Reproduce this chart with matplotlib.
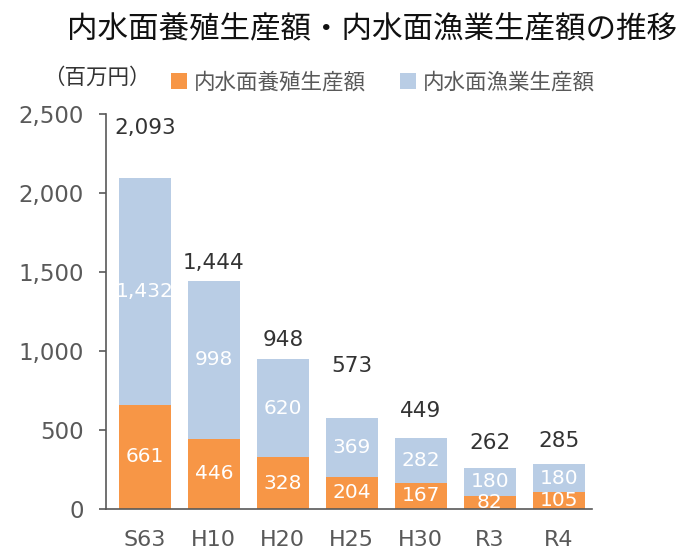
import matplotlib.pyplot as plt

plt.rcParams['font.family'] = ['DejaVu Sans', 'Noto Sans CJK JP']

years = ['S63', 'H10', 'H20', 'H25', 'H30', 'R3', 'R4']
aquaculture = [661, 446, 328, 204, 167, 82, 105]   # 内水面養殖生産額
fishery = [1432, 998, 620, 369, 282, 180, 180]     # 内水面漁業生産額
totals = [a + f for a, f in zip(aquaculture, fishery)]
total_label_y = [2412, 1559, 1067, 903, 619, 417, 429]  # where the total labels sit

orange = '#F79646'
blue = '#B9CDE5'
grey = '#595959'

fig = plt.figure(figsize=(6.78, 5.49), dpi=100)
ax = fig.add_axes([0.156, 0.073, 0.717, 0.719])

x = range(len(years))
ax.bar(x, aquaculture, width=0.76, color=orange, label='内水面養殖生産額')
ax.bar(x, fishery, width=0.76, bottom=aquaculture, color=blue, label='内水面漁業生産額')

# values inside the segments
for i in x:
    ax.text(i, aquaculture[i] / 2, f'{aquaculture[i]:,}', ha='center', va='center',
            color='white', fontsize=14.5)
    ax.text(i, aquaculture[i] + fishery[i] / 2, f'{fishery[i]:,}', ha='center', va='center',
            color='white', fontsize=14.5)
    ax.text(i, total_label_y[i], f'{totals[i]:,}', ha='center', va='center',
            color='#333333', fontsize=15.5)

ax.set_xlim(-0.565, 6.48)
ax.set_ylim(0, 2500)
ax.set_yticks(range(0, 2501, 500))
ax.set_yticklabels([f'{v:,}' for v in range(0, 2501, 500)])
ax.set_xticks(list(x))
ax.set_xticklabels(years)

for side in ['top', 'right']:
    ax.spines[side].set_visible(False)
ax.spines['left'].set_color(grey)
ax.spines['bottom'].set_color(grey)
ax.spines['left'].set_linewidth(1.2)
ax.spines['bottom'].set_linewidth(1.2)
ax.tick_params(axis='y', colors=grey, labelsize=16.5, length=5, width=1.2, pad=11)
ax.tick_params(axis='x', colors=grey, labelsize=16, length=0, pad=15)

fig.text(0.548, 0.947, '内水面養殖生産額・内水面漁業生産額の推移', ha='center', va='center',
         fontsize=22, color='#111111')
fig.text(0.143, 0.858, '（百万円）', ha='center', va='center', fontsize=15.5, color='#333333')

fig.legend(loc='center', bbox_to_anchor=(0.565, 0.851), ncol=2, frameon=False,
           fontsize=15.5, handlelength=0.75, handleheight=0.75, handletextpad=0.3,
           columnspacing=1.6, labelcolor=grey)

fig.savefig('out.png', dpi=100)
